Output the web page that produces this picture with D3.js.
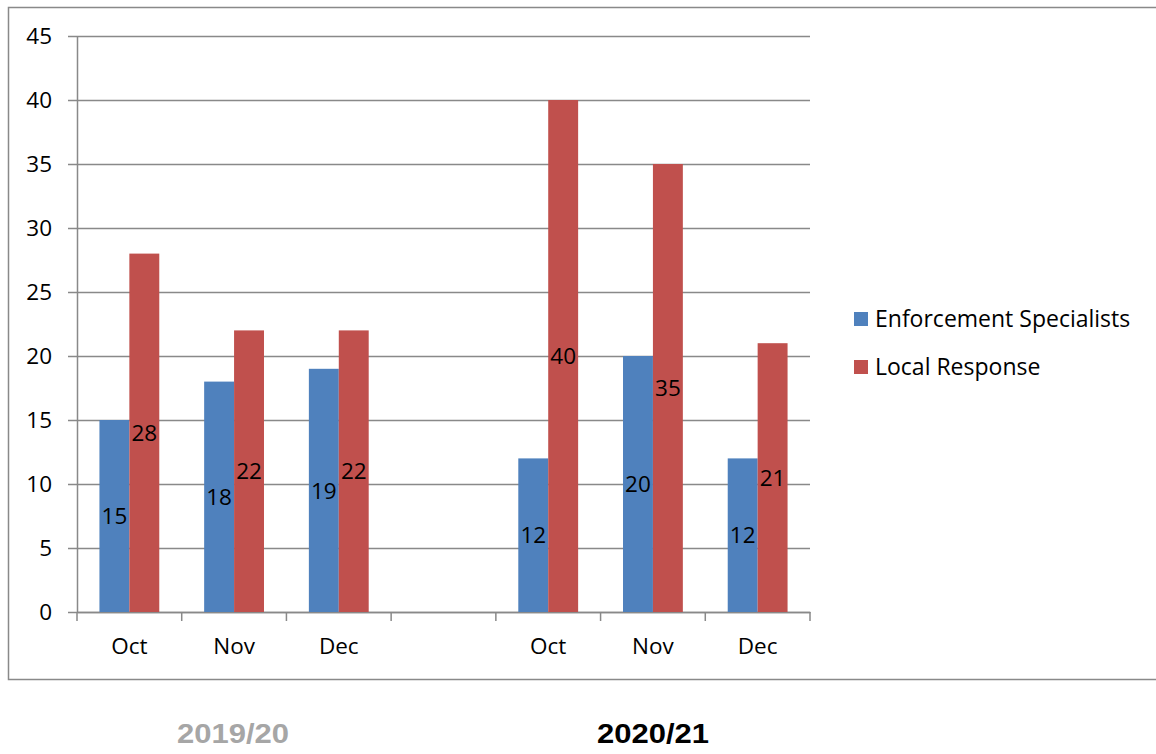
<!DOCTYPE html>
<html>
<head>
<meta charset="utf-8">
<script src="https://cdn.jsdelivr.net/npm/d3@7"></script>
<style>
  body { margin: 0; background: #fff; }
  svg { display: block; }
</style>
</head>
<body>
<script>
// data
const slots = ["a1", "a2", "a3", "gap", "b1", "b2", "b3"];
const slotLabels = ["Oct", "Nov", "Dec", "", "Oct", "Nov", "Dec"];
const seriesNames = ["Enforcement Specialists", "Local Response"];
const enforcement = [15, 18, 19, null, 12, 20, 12];
const localResponse = [28, 22, 22, null, 40, 35, 21];
const yTicks = [0, 5, 10, 15, 20, 25, 30, 35, 40, 45];
const years = ["2019/20", "2020/21"];

const colors = ["#4f81bd", "#c0504d"];
const width = 1156, height = 754;
const plotLeft = 77, plotRight = 810, plotTop = 36, plotBottom = 612;
const font = "'Open Sans', 'Noto Sans', sans-serif";
const fs = 22.5;

const svg = d3.select("body").append("svg")
    .attr("width", width)
    .attr("height", height);

// outer frame
svg.append("rect")
    .attr("x", 8.5).attr("y", 7.5)
    .attr("width", 1160).attr("height", 672)
    .attr("fill", "none")
    .attr("stroke", "#898989")
    .attr("stroke-width", 1.5);

const x = d3.scaleBand().domain(slots).range([plotLeft, plotRight]);
const inner = d3.scaleBand().domain([0, 1]).range([0, x.bandwidth()]).paddingOuter(0.75).paddingInner(0);
const y = d3.scaleLinear().domain([0, 45]).range([plotBottom, plotTop]);

// grid lines
svg.append("g").selectAll("line")
    .data(yTicks)
    .join("line")
    .attr("x1", plotLeft - 9).attr("x2", plotRight)
    .attr("y1", d => Math.round(y(d)) + 0.5).attr("y2", d => Math.round(y(d)) + 0.5)
    .attr("stroke", "#898989").attr("stroke-width", 1.5);

// y axis
const yAxis = svg.append("g")
    .attr("transform", `translate(${plotLeft},0)`)
    .call(d3.axisLeft(y).tickValues(yTicks).tickSize(0).tickPadding(25));
yAxis.select(".domain").attr("stroke", "#898989").attr("stroke-width", 1.5);
yAxis.selectAll("text").attr("font-family", font).attr("font-size", fs).attr("fill", "#000");

// x axis
const xAxis = svg.append("g")
    .attr("transform", `translate(0,${plotBottom})`)
    .call(d3.axisBottom(x).tickSize(0).tickFormat((d, i) => slotLabels[i]).tickPadding(26));
xAxis.select(".domain").attr("stroke", "#898989").attr("stroke-width", 1.5);
xAxis.selectAll("text").attr("font-family", font).attr("font-size", fs).attr("fill", "#000");
xAxis.selectAll(".sep")
    .data(d3.range(slots.length + 1))
    .join("line")
    .attr("class", "sep")
    .attr("x1", i => plotLeft + i * x.step()).attr("x2", i => plotLeft + i * x.step())
    .attr("y1", 0).attr("y2", 9)
    .attr("stroke", "#898989").attr("stroke-width", 1.5);

// bars
const rows = [];
[enforcement, localResponse].forEach((vals, s) => {
  vals.forEach((v, i) => { if (v != null) rows.push({ slot: slots[i], s, v }); });
});

svg.append("g").selectAll("rect")
    .data(rows)
    .join("rect")
    .attr("x", d => x(d.slot) + inner(d.s))
    .attr("y", d => y(d.v))
    .attr("width", inner.bandwidth())
    .attr("height", d => y(0) - y(d.v))
    .attr("fill", d => colors[d.s]);

svg.append("g").selectAll("text")
    .data(rows)
    .join("text")
    .attr("x", d => x(d.slot) + inner(d.s) + inner.bandwidth() / 2)
    .attr("y", d => (y(d.v) + y(0)) / 2)
    .attr("dy", "0.36em")
    .attr("text-anchor", "middle")
    .attr("font-family", font).attr("font-size", fs)
    .text(d => d.v);

// legend
const legend = svg.append("g").attr("transform", "translate(854,312)");
seriesNames.forEach((name, i) => {
  const g = legend.append("g").attr("transform", `translate(0,${i * 48})`);
  g.append("rect").attr("width", 14).attr("height", 14).attr("fill", colors[i]);
  g.append("text").attr("x", 21).attr("y", 7).attr("dy", "0.36em")
      .attr("font-family", font).attr("font-size", 23).text(name);
});

// period labels
svg.append("g").selectAll("text")
    .data(years)
    .join("text")
    .attr("x", (d, i) => i === 0 ? 177 : 597)
    .attr("y", 743)
    .attr("textLength", 112)
    .attr("lengthAdjust", "spacingAndGlyphs")
    .attr("font-family", "'Liberation Sans', Arial, sans-serif")
    .attr("font-weight", "bold")
    .attr("font-size", 27)
    .attr("fill", (d, i) => i === 0 ? "#a6a6a6" : "#000")
    .text(d => d);
</script>
</body>
</html>
